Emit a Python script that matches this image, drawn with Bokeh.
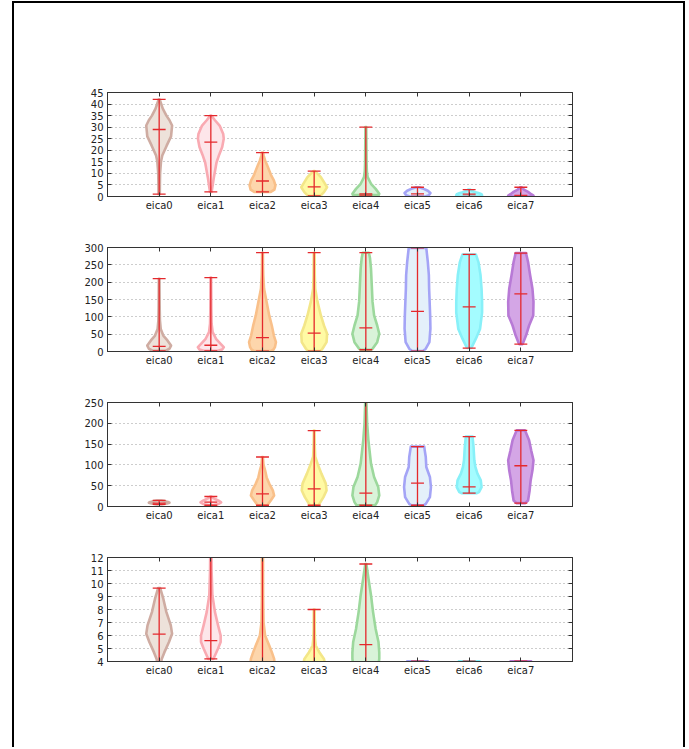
from bokeh.plotting import figure
from bokeh.layouts import column
from bokeh.models import Range1d, FixedTicker, LinearAxis, Spacer
from bokeh.embed import file_html
from bokeh.resources import INLINE

categories = ["eica0", "eica1", "eica2", "eica3", "eica4", "eica5", "eica6", "eica7"]
positions = [1, 2, 3, 4, 5, 6, 7, 8]

fill_colors = ["#ede2da", "#fde6ea", "#fdd6ac", "#fffaa4", "#d9f3d9", "#e4f0fa", "#a4fcff", "#d4a6e6"]
edge_colors = ["#cfaca2", "#f9aab2", "#f9c08a", "#f3e688", "#9cd89c", "#a4a4f6", "#88f0f8", "#b87ad6"]

# ---- panel 1 ----
p1_lo = [1, 2, 2, 0.3, 0.6, 0, 0, 0]
p1_hi = [42, 35, 19, 11, 30, 4, 3, 4]
p1_mid = [29, 23.5, 6.7, 4.2, 1.1, 1.1, 1.0, 0.5]
p1_levels = [
    [1, 5, 10, 15, 17.7, 22, 26, 30.7, 33, 35, 38, 42],
    [2, 4, 7.8, 14.7, 18, 21.4, 25, 27, 30.7, 33, 35],
    [2, 3, 4.8, 7, 9, 11.3, 13.5, 15.6, 17.5, 19],
    [0.3, 1.9, 4, 6.2, 8.4, 10, 11],
    [0.6, 1.2, 3.3, 5.5, 8.4, 11, 15, 20, 25, 30],
    [0, 0.5, 1.5, 2.5, 3.5, 4],
    [0, 0.5, 1, 1.5, 2, 2.5, 3],
    [0, 0.5, 1, 2, 3, 4],
]
p1_widths = [
    [0.012, 0.014, 0.018, 0.035, 0.06, 0.145, 0.23, 0.25, 0.2, 0.14, 0.07, 0.01],
    [0.015, 0.03, 0.055, 0.11, 0.16, 0.22, 0.25, 0.24, 0.17, 0.08, 0.01],
    [0.16, 0.23, 0.25, 0.22, 0.17, 0.13, 0.09, 0.05, 0.025, 0.01],
    [0.12, 0.19, 0.25, 0.19, 0.13, 0.06, 0.01],
    [0.25, 0.26, 0.19, 0.1, 0.035, 0.02, 0.014, 0.012, 0.01, 0.008],
    [0.15, 0.22, 0.25, 0.2, 0.1, 0.03],
    [0.2, 0.25, 0.24, 0.18, 0.1, 0.05, 0.02],
    [0.25, 0.24, 0.2, 0.14, 0.06, 0.01],
]

# ---- panel 2 ----
p2_lo = [2, 2, 1, 1, 5, 1, 10, 21]
p2_hi = [210, 213, 285, 285, 285, 299, 280, 284]
p2_mid = [15, 18, 40, 53, 68, 116, 129, 166]
p2_levels = [
    [2, 8, 17, 32, 46, 65, 90, 130, 170, 210],
    [2, 6, 12.5, 22, 36.7, 56, 80, 120, 170, 213],
    [1, 5, 12.5, 27, 46, 75, 104, 143, 181, 220, 250, 285],
    [1, 8, 27, 51, 75, 104, 143, 181, 220, 285],
    [5, 8, 27, 51, 75, 104, 143, 191, 239, 270, 285],
    [1, 8, 27, 66, 104, 143, 181, 220, 258, 299],
    [10, 12.5, 37, 65, 112, 143, 181, 220, 258, 280],
    [21, 27, 46, 75, 104, 143, 181, 220, 258, 284],
]
p2_widths = [
    [0.12, 0.2, 0.23, 0.16, 0.08, 0.03, 0.015, 0.01, 0.008, 0.006],
    [0.14, 0.22, 0.25, 0.19, 0.1, 0.035, 0.015, 0.01, 0.008, 0.006],
    [0.16, 0.21, 0.24, 0.26, 0.22, 0.18, 0.13, 0.08, 0.03, 0.015, 0.01, 0.008],
    [0.12, 0.16, 0.24, 0.25, 0.19, 0.13, 0.065, 0.02, 0.012, 0.008],
    [0.1, 0.13, 0.22, 0.26, 0.22, 0.16, 0.13, 0.115, 0.1, 0.08, 0.06],
    [0.1, 0.16, 0.23, 0.25, 0.245, 0.235, 0.225, 0.22, 0.2, 0.17],
    [0.03, 0.05, 0.13, 0.21, 0.25, 0.25, 0.24, 0.22, 0.18, 0.13],
    [0.03, 0.05, 0.1, 0.16, 0.24, 0.245, 0.225, 0.18, 0.14, 0.1],
]

# ---- panel 3 ----
p3_lo = [5, 3, 3, 3, 3, 3, 32, 8]
p3_hi = [14.5, 24, 119, 182.5, 290, 144, 168, 183]
p3_mid = [8, 10.5, 30.5, 42.6, 32, 56, 47, 98]
p3_levels = [
    [5, 7, 9, 11, 13, 14.5],
    [3, 6, 10, 14, 18, 21, 24],
    [3, 4, 14.5, 26.5, 38.6, 55, 70, 87, 100, 119],
    [3, 6.4, 22.5, 38.6, 55, 79, 103, 120, 150, 182.5],
    [3, 10.5, 26.5, 46.6, 71, 103, 159, 200, 250, 290],
    [3, 6.4, 22.5, 46.6, 71, 95, 119, 135, 144],
    [32, 34.6, 46.6, 62.7, 79, 95, 111, 143, 168],
    [8, 14.5, 38.6, 62.7, 87, 111, 135, 159, 183],
]
p3_widths = [
    [0.05, 0.15, 0.2, 0.17, 0.1, 0.04],
    [0.05, 0.15, 0.2, 0.15, 0.08, 0.04, 0.01],
    [0.08, 0.1, 0.16, 0.225, 0.2, 0.13, 0.08, 0.05, 0.02, 0.008],
    [0.08, 0.1, 0.18, 0.24, 0.225, 0.14, 0.065, 0.02, 0.01, 0.006],
    [0.18, 0.22, 0.26, 0.24, 0.16, 0.1, 0.05, 0.025, 0.012, 0.008],
    [0.12, 0.16, 0.24, 0.26, 0.24, 0.17, 0.16, 0.14, 0.13],
    [0.15, 0.19, 0.24, 0.225, 0.16, 0.12, 0.1, 0.085, 0.065],
    [0.08, 0.14, 0.17, 0.19, 0.225, 0.245, 0.2, 0.16, 0.08],
]

# ---- panel 4 ----
p4_lo = [2.5, 4.2, 2, 2, 2, 0, 0, 0]
p4_hi = [9.65, 15, 20, 8, 11.5, 4.02, 4.02, 4.02]
p4_mid = [6.1, 5.6, 3, 3, 5.3, 1, 1, 1]
p4_levels = [
    [2.5, 3.5, 4.2, 4.7, 5.5, 6.13, 6.78, 7.8, 8.83, 9.65],
    [4.2, 4.46, 5.0, 5.5, 6.0, 6.78, 7.8, 9.1, 11, 13, 15],
    [2, 3, 4.2, 4.72, 5.23, 6.0, 7, 9, 12, 16, 20],
    [2, 3, 4.2, 4.72, 5.23, 5.8, 6.5, 8],
    [2, 3, 4.2, 4.7, 5.5, 6.5, 7.8, 9.1, 10.4, 11.5],
    [0, 1, 2, 3, 4.02],
    [0, 1, 2, 3, 4.02],
    [0, 1, 2, 3, 4.02],
]
p4_widths = [
    [0.01, 0.02, 0.05, 0.1, 0.19, 0.25, 0.225, 0.14, 0.08, 0.02],
    [0.05, 0.08, 0.14, 0.19, 0.19, 0.14, 0.08, 0.03, 0.015, 0.01, 0.008],
    [0.2, 0.25, 0.225, 0.18, 0.13, 0.05, 0.02, 0.012, 0.01, 0.008, 0.006],
    [0.2, 0.25, 0.19, 0.1, 0.03, 0.015, 0.01, 0.008],
    [0.15, 0.22, 0.26, 0.26, 0.245, 0.19, 0.14, 0.1, 0.05, 0.01],
    [0.1, 0.2, 0.25, 0.22, 0.2],
    [0.1, 0.2, 0.25, 0.22, 0.2],
    [0.1, 0.2, 0.25, 0.22, 0.2],
]

y_ranges = [(0, 45, 5), (0, 300, 50), (0, 250, 50), (4, 12, 1)]

RED = "#e4282c"
FONT = "DejaVu Sans"
AX = "#333333"


def make_panel(lo, hi, mid, levels, widths, yr):
    y0, y1, step = yr
    yticks = list(range(y0, y1 + 1, step))
    p = figure(frame_width=465, frame_height=104,
               x_range=Range1d(0, 9), y_range=Range1d(y0, y1),
               output_backend="svg", toolbar_location=None,
               min_border_left=93, min_border_right=111,
               min_border_top=31, min_border_bottom=20,
               x_axis_location=None, y_axis_location=None)
    p.outline_line_color = AX
    p.outline_line_width = 1
    p.background_fill_color = "white"
    p.border_fill_color = None

    for loc in ["left", "right"]:
        ax = LinearAxis(ticker=FixedTicker(ticks=yticks))
        ax.major_tick_in = 4
        ax.major_tick_out = 0
        ax.minor_tick_line_color = None
        ax.axis_line_color = AX
        ax.major_tick_line_color = AX
        ax.major_label_text_font = FONT
        ax.major_label_text_font_size = "10px"
        ax.major_label_text_color = "#222222" if loc == "left" else None
        ax.major_label_standoff = 4
        p.add_layout(ax, loc)
    for loc in ["below", "above"]:
        ax = LinearAxis(ticker=FixedTicker(ticks=positions))
        ax.major_label_overrides = {pos: c for pos, c in zip(positions, categories)}
        ax.major_tick_in = 4
        ax.major_tick_out = 0
        ax.minor_tick_line_color = None
        ax.axis_line_color = AX
        ax.major_tick_line_color = AX
        ax.major_label_text_font = FONT
        ax.major_label_text_font_size = "10px"
        ax.major_label_text_color = "#222222" if loc == "below" else None
        ax.major_label_standoff = 3
        p.add_layout(ax, loc)

    p.xgrid.visible = False
    p.ygrid.ticker = FixedTicker(ticks=yticks)
    p.ygrid.grid_line_color = "#9a9a9a"
    p.ygrid.grid_line_dash = "1 3"
    p.ygrid.grid_line_width = 1

    xs, ys = [], []
    for pos, lev, wid in zip(positions, levels, widths):
        xs.append([pos + w for w in wid] + [pos - w for w in wid[::-1]])
        ys.append(list(lev) + list(lev[::-1]))
    p.patches(xs, ys, fill_color=fill_colors, line_color=edge_colors, line_width=2.6,
              line_join="round")

    cap = 0.125
    p.segment(x0=positions, y0=lo, x1=positions, y1=hi, line_color=RED, line_width=1.3)
    for vals in (lo, hi, mid):
        p.segment(x0=[x - cap for x in positions], y0=vals,
                  x1=[x + cap for x in positions], y1=vals,
                  line_color=RED, line_width=1.3)
    return p


panels = [
    make_panel(p1_lo, p1_hi, p1_mid, p1_levels, p1_widths, y_ranges[0]),
    make_panel(p2_lo, p2_hi, p2_mid, p2_levels, p2_widths, y_ranges[1]),
    make_panel(p3_lo, p3_hi, p3_mid, p3_levels, p3_widths, y_ranges[2]),
    make_panel(p4_lo, p4_hi, p4_mid, p4_levels, p4_widths, y_ranges[3]),
]

layout = column(Spacer(height=58, width=669), *panels, Spacer(height=66, width=669),
                spacing=0, margin=(1, 0, 0, 12),
                styles={"border-left": "2px solid black", "border-right": "2px solid black",
                        "border-top": "2px solid black"})

html = file_html(layout, INLINE, title="violins")
open("out.html", "w").write(html)
